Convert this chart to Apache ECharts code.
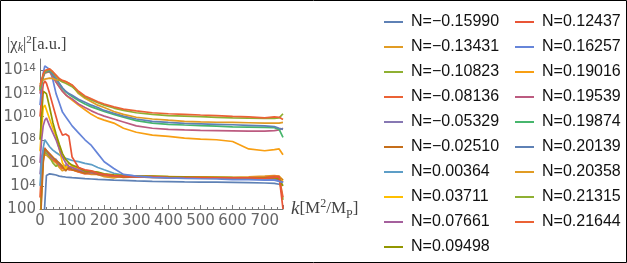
<!DOCTYPE html>
<html><head><meta charset="utf-8">
<script src="https://cdn.jsdelivr.net/npm/echarts@6/dist/echarts.min.js"></script>
<style>html,body{margin:0;padding:0;background:#fff}#c{width:627px;height:263px}</style>
</head><body><div id="c"></div>
<script>
// k grid shared by all curves
const kValues = [0,5,10,15,20,30,40,50,60,70,80,90,100,120,140,160,180,200,230,260,300,350,400,450,500,550,600,650,700,730,745,757];
const seriesNames = ['N=\u22120.15990','N=\u22120.13431','N=\u22120.10823','N=\u22120.08136','N=\u22120.05329','N=\u22120.02510','N=0.00364','N=0.03711','N=0.07661','N=0.09498','N=0.12437','N=0.16257','N=0.19016','N=0.19539','N=0.19874','N=0.20139','N=0.20358','N=0.21315','N=0.21644'];
const nM15990 = [1,1,1,1,7.9e4,1.12e5,1e5,8.9e4,7.1e4,6.3e4,5.9e4,5.6e4,5.2e4,4.8e4,4.3e4,4e4,3.7e4,3.5e4,3.2e4,3e4,2.7e4,2.5e4,2.4e4,2.2e4,2.1e4,2.1e4,2e4,1.9e4,1.8e4,1.66e4,1.4e4,1.12e4];
const nM13431 = [1,3.2e3,1.6e6,6.3e6,6.3e6,2.5e6,1.6e6,1e6,4e5,2e5,3.2e5,4e5,2.5e5,1.6e5,1.26e5,1e5,1e5,6.3e4,5e4,7.9e4,7.1e4,6.3e4,6.3e4,6e4,6e4,5.6e4,5.6e4,6e4,7.1e4,7.9e4,7.1e4,3.2e4];
const nM10823 = [1,1e4,3.2e6,1e7,7.9e6,3.2e6,1e6,5e5,7.9e5,3.2e5,5e5,4e5,2.8e5,2e5,1.6e5,1.26e5,1.12e5,8.9e4,7.9e4,7.6e4,6.6e4,6.3e4,6e4,5.6e4,5.6e4,5.2e4,5.2e4,5e4,5.2e4,5.6e4,5e4,6.3e2];
const nM08136 = [1e3,3.2e5,1e7,2e7,1.6e7,4e6,2e6,1.26e6,6.3e5,3.2e5,4e5,2.5e5,2.5e5,1.6e5,1.12e5,1.26e5,1e5,8.3e4,7.1e4,6.3e4,6e4,6e4,5.6e4,5.6e4,5.2e4,5.2e4,5e4,5.2e4,5.6e4,7.1e4,6.3e4,1e3];
const nM05329 = [1e5,3.2e6,1e7,1.6e7,1.26e7,5e6,2.5e6,2e6,7.9e5,5e5,6.3e5,3.2e5,4e5,2.2e5,1.6e5,1.4e5,1.12e5,8.9e4,7.6e4,6.6e4,6e4,5.6e4,5.2e4,5e4,4.8e4,4.8e4,4.6e4,4.5e4,4.2e4,4.2e4,3.2e4,2e4];
const nM02510 = [1,1e3,1e6,1.6e7,2e7,6.3e6,3.2e6,1.6e6,1e6,5e5,2e5,4e5,2.5e5,2e5,1.26e5,1.6e5,1e5,8.9e4,7.1e4,5.6e4,6e4,5.6e4,5.2e4,5.2e4,5e4,5e4,5e4,4.8e4,5e4,5.2e4,4.5e4,3.2e4];
const nP00364 = [1e4,1e6,2e7,1e8,1e8,2.5e7,1.26e7,7.9e6,5e6,3.2e6,2.5e6,2e6,1.6e6,1.26e6,8.9e5,7.1e5,4e5,2.5e5,1.26e5,8.9e4,7.1e4,6.3e4,5.6e4,5.2e4,5e4,4.8e4,4.6e4,4.5e4,4.3e4,4e4,3.2e4,2e4];
const nP03711 = [1e7,1e9,6.3e10,1e11,4e10,6.3e9,1e9,2e8,1.6e7,1e6,3.2e5,1e6,5e5,3.2e5,2.2e5,1.8e5,1.4e5,1e5,8.3e4,7.6e4,6.6e4,6.3e4,6e4,5.6e4,5.2e4,5.2e4,5e4,5e4,4.8e4,5e4,4e4,2.5e4];
const nP07661 = [1e6,1e8,1.6e9,5e9,7.9e9,1.6e9,4e8,1e8,1.6e7,3.2e6,1e6,5e5,4e5,2.5e5,2e5,1.6e5,1.26e5,1e5,7.9e4,7.1e4,6.3e4,6e4,5.6e4,5.2e4,5e4,5e4,4.8e4,4.5e4,4.5e4,4.2e4,3.5e4,2e4];
const nP09498 = [1e8,1e10,1.6e12,2e12,1e12,6.3e10,3.2e9,3.2e8,4e7,6.3e6,2e6,1e6,6.3e5,4e5,2e5,1.8e5,1.6e5,1.12e5,8.9e4,7.9e4,7.1e4,7.1e4,6.3e4,6e4,5.6e4,5.6e4,5.2e4,5e4,5e4,5.2e4,4e4,1e4];
const nP12437 = [1e10,3.2e11,6.3e12,1.26e13,7.9e12,1e12,1e11,1e10,1e9,2.5e8,3.2e8,2e8,3.2e6,4e5,2.5e5,2e5,1.26e5,1e5,7.9e4,7.1e4,6.3e4,6.3e4,5.6e4,5.2e4,5.2e4,5e4,5e4,5e4,4.5e4,5.6e4,6.3e4,100];
const nP16257 = [1e11,3.2e12,6.3e13,2.5e14,3.2e14,1.26e14,1.6e13,1e12,1.6e11,2.5e10,1e10,4e9,1.6e9,4e8,1e8,3.2e7,6.3e6,1.26e6,3.2e5,1e5,7.1e4,5.6e4,5e4,4.5e4,4.2e4,4e4,3.5e4,3.5e4,3.2e4,3.2e4,2.5e4,2e4];
const nP19016 = [1.6e12,7.9e12,3.2e13,6.3e13,8.9e13,7.9e13,3.2e13,1e13,4e12,1.6e12,7.9e11,4.5e11,2.8e11,1e11,4e10,1.6e10,7.9e9,5e9,2.8e9,1e9,4.5e8,2.5e8,2e8,1.4e8,1.12e8,1e8,7.1e7,1.6e7,1.12e7,1.4e7,1.6e7,5e6];
const nP19539 = [1e12,6.3e12,2.5e13,6.3e13,8.9e13,7.9e13,3.2e13,1e13,4e12,1.6e12,7.9e11,5e11,3.5e11,1.26e11,6.3e10,3.2e10,1.8e10,1.12e10,6.3e9,3.5e9,1.6e9,1e9,7.9e8,7.1e8,6.6e8,6.3e8,6e8,5.6e8,5.6e8,6.3e8,7.1e8,1e9];
const nP19874 = [2e12,7.9e12,3.2e13,7.1e13,8.9e13,8.9e13,4.5e13,1.8e13,7.1e12,2.8e12,1.4e12,8.9e11,5.6e11,2.5e11,1.26e11,7.1e10,4.5e10,2.8e10,1.6e10,8.9e9,4.5e9,2.8e9,2.2e9,1.9e9,1.66e9,1.5e9,1.3e9,1.26e9,1.2e9,1.12e9,7.9e8,1.6e8];
const nP20139 = [3.2e12,1.26e13,4e13,7.9e13,1e14,1e14,5e13,2e13,7.9e12,3.2e12,1.6e12,1e12,7.1e11,3.2e11,1.8e11,1e11,6.3e10,3.5e10,2e10,1.12e10,6.3e9,4e9,3.2e9,2.6e9,2.4e9,2.2e9,2e9,1.8e9,1.6e9,1.4e9,1e9,7.9e8];
const nP20358 = [6.3e12,1.26e13,1.6e13,1.8e13,2e13,2.2e13,2e13,1.6e13,1.4e13,1.26e13,1.1e13,7.9e12,5e12,1e12,4e11,2e11,1e11,6.3e10,2.8e10,1.6e10,8.9e9,6.3e9,5e9,4e9,3.5e9,3.3e9,3.2e9,3e9,2.8e9,2.8e9,2.8e9,3.2e9];
const nP21315 = [2.5e12,1e13,4e13,7.9e13,1.12e14,1.26e14,7.1e13,3.2e13,1.6e13,1e13,7.9e12,5.6e12,4e12,1.26e12,5e11,2.8e11,1.6e11,1e11,5.6e10,3.5e10,2.2e10,1.6e10,1.26e10,1.12e10,1e10,8.9e9,7.9e9,7.4e9,7.1e9,7.1e9,7.9e9,1.8e10];
const nP21644 = [4e12,1.6e13,5e13,1e14,1.26e14,1.4e14,7.9e13,4e13,2e13,1.4e13,1.1e13,7.9e12,5.6e12,1.6e12,6.3e11,3.5e11,2e11,1.26e11,7.1e10,4.5e10,3.2e10,2.2e10,1.8e10,1.6e10,1.4e10,1.26e10,1.05e10,9.5e9,7.9e9,9.5e9,8.9e9,5.6e9];
const allValues = [nM15990,nM13431,nM10823,nM08136,nM05329,nM02510,nP00364,nP03711,nP07661,nP09498,nP12437,nP16257,nP19016,nP19539,nP19874,nP20139,nP20358,nP21315,nP21644];
const xTicks = [0,100,200,300,400,500,600,700];
const yTickExponents = [2,4,6,8,10,12,14];

const colors = ['#5E81B5','#E19C24','#8FB032','#EB6235','#8778B3','#C56E1A','#5D9EC7','#FFBF00','#A5609D','#929600','#E95536','#6685D9','#F89F13','#BC5B80','#47B66D','#5E81B5','#E19C24','#8FB032','#EB6235'];

const chart = echarts.init(document.getElementById('c'), null, {renderer:'canvas'});
const series = allValues.map((vals, i) => ({
  name: seriesNames[i], type: 'line', showSymbol: false, symbol: 'none', clip: true,
  color: colors[i], lineStyle: {width: 1.7, color: colors[i]},
  data: kValues.map((k, j) => [k, vals[j]]), animation: false
}));
const tickFont = 'DejaVu Sans';
const serif = 'Liberation Serif';
const nameColor = '#444';
chart.setOption({
  animation: false,
  graphic: [{type:'rect', shape:{x:0.5,y:0.5,width:626,height:262}, style:{fill:'none', stroke:'#000', lineWidth:1}, silent:true}],
  title: {
    text: '|\u03C7{sub|k}|{sup|2}[a.u.]', left: 7, top: 35, padding: 0,
    textStyle: {fontFamily: serif, fontSize: 16.5, fontWeight:'normal', color: nameColor, lineHeight: 19,
      rich: {sub:{fontFamily: serif, fontStyle:'italic', fontSize:12, color: nameColor, verticalAlign:'bottom', lineHeight:14},
             sup:{fontFamily: serif, fontSize:11, color: nameColor, verticalAlign:'top', lineHeight:10}}}
  },
  grid: {left: 40, right: 344, top: 59, bottom: 54, containLabel: false, outerBoundsMode: 'none'},
  xAxis: {
    type: 'value', min: 0, max: 757, interval: 100,
    name: '{i|k}[M{sup|2}/M{sub|P}]', nameLocation: 'end', nameGap: 8,
    nameTextStyle: {fontFamily: serif, fontSize: 17, color: nameColor, verticalAlign:'middle',
      rich: {i:{fontStyle:'italic', fontFamily: serif, fontSize:19, color: nameColor},
             sup:{fontFamily: serif, fontSize:12, color: nameColor, verticalAlign:'top', lineHeight:10},
             sub:{fontFamily: serif, fontSize:12, color: nameColor, verticalAlign:'bottom', lineHeight:23}}},
    axisLine: {show: true, lineStyle: {color: '#777', width: 1}},
    axisTick: {show: true, inside: true, length: 4, lineStyle: {color:'#777'}},
    minorTick: {show: true, splitNumber: 5, length: 2, lineStyle: {color:'#777'}},
    splitLine: {show: false},
    axisLabel: {fontFamily: tickFont, fontSize: 15, color: '#666', margin: 5, showMaxLabel: false,
      formatter: v => xTicks.indexOf(v) >= 0 ? String(v) : ''}
  },
  yAxis: {
    type: 'log', logBase: 10, min: 100, max: 1e15, interval: 2,
    axisLine: {show: true, onZero: false, lineStyle: {color: '#777', width: 1}},
    axisTick: {show: true, inside: true, length: 4, lineStyle: {color:'#777'}},
    splitLine: {show: false},
    axisLabel: {fontFamily: tickFont, fontSize: 15, color: '#666', margin: 4, showMaxLabel: false,
      formatter: v => {
        const e = Math.round(Math.log10(v));
        if (yTickExponents.indexOf(e) < 0) return '';
        return e === 2 ? '100' : '10{sup|' + e + '}';
      },
      rich: {sup: {fontFamily: tickFont, fontSize: 10.5, color:'#666', verticalAlign:'top', lineHeight: 9}}}
  },
  legend: [
    {data: seriesNames.slice(0,10), orient:'vertical', left: 379, top: 9, itemWidth: 19, itemHeight: 2, itemGap: 9, icon: 'rect',
     textStyle: {fontFamily:'Liberation Sans', fontSize: 16, lineHeight: 16, color:'#111', padding:[0,0,0,3]}},
    {data: seriesNames.slice(10), orient:'vertical', left: 510, top: 9, itemWidth: 19, itemHeight: 2, itemGap: 9, icon: 'rect',
     textStyle: {fontFamily:'Liberation Sans', fontSize: 16, lineHeight: 16, color:'#111', padding:[0,0,0,3]}}
  ],
  series: series
});
</script></body></html>
